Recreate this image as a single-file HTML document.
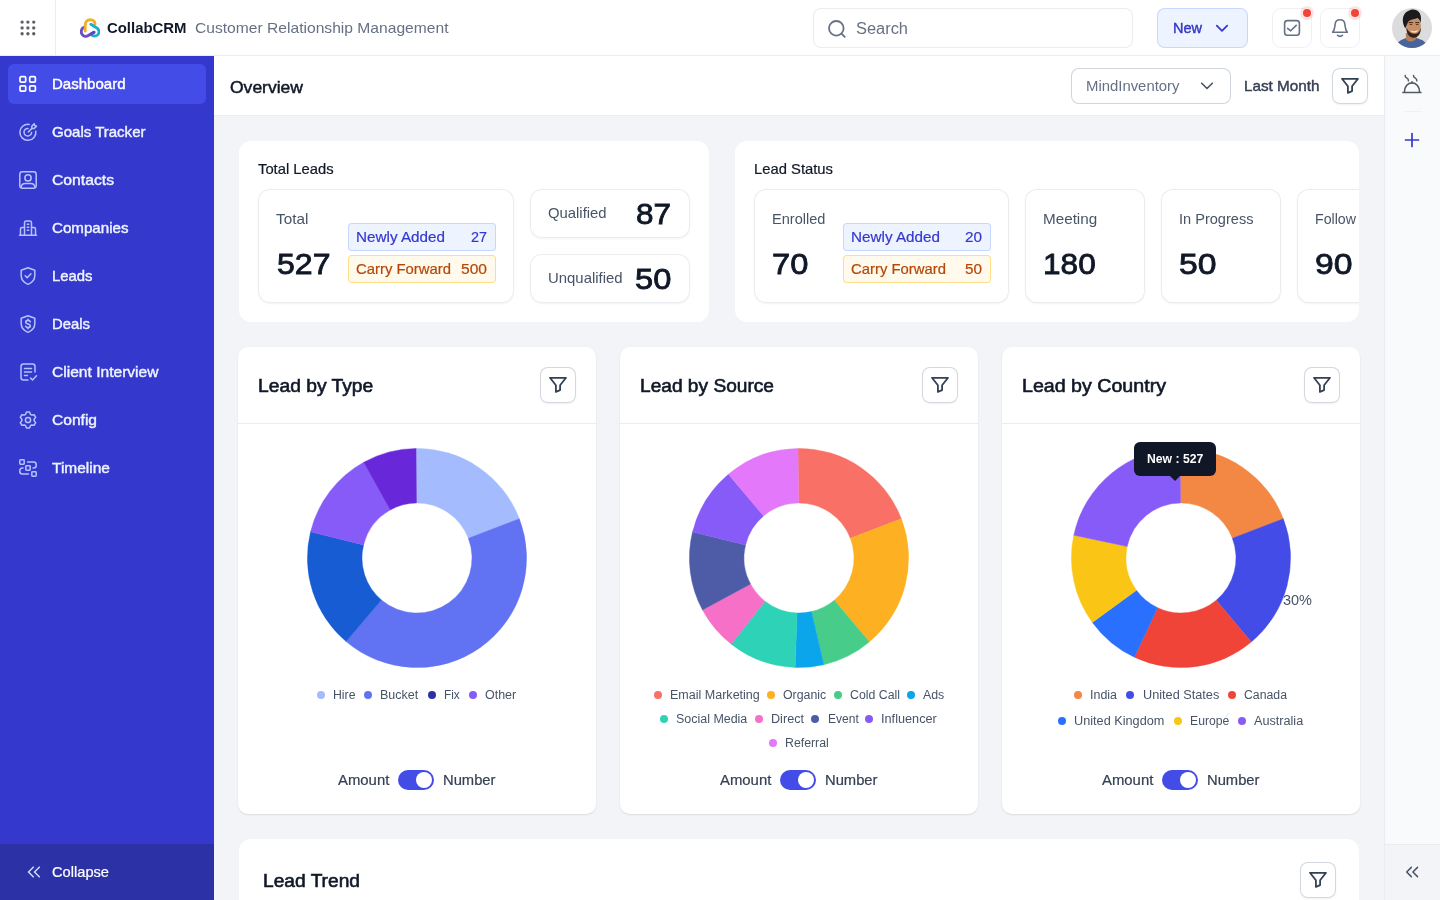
<!DOCTYPE html>
<html lang="en">
<head>
<meta charset="utf-8">
<title>CollabCRM - Dashboard Overview</title>
<style>
*{box-sizing:border-box;margin:0;padding:0}
html,body{width:1440px;height:900px;overflow:hidden}
body{position:relative;background:#f2f4f7;font-family:"Liberation Sans",sans-serif;font-size:15px;color:#101828;-webkit-font-smoothing:antialiased}
header,aside,main,section,div,button,svg.ic,.t{position:absolute}
button{font:inherit;border:0;background:none;cursor:pointer}
.t{white-space:nowrap;font-weight:400;text-decoration:none;display:block;transform-origin:0 50%}
.topbar{background:#fff;box-shadow:inset 0 -1px 0 #eaecf0;z-index:5}
.gridcell{box-shadow:inset -1px 0 0 #eaecf0}
.search{box-shadow:inset 0 0 0 1px #eaecf0;border-radius:8px;background:#fff}
.newbtn{background:#eef4ff;box-shadow:inset 0 0 0 1px #c7d7fe;border-radius:8px}
.ibtn{box-shadow:inset 0 0 0 1px #eef0f3;border-radius:9px;background:#fff}
.reddot{border-radius:50%;background:#f04438;box-shadow:0 0 0 3px rgba(240,68,56,.14)}
.sidebar{background:#3538cd}
.active{background:#444ce7;border-radius:6px}
.sfoot{background:#2d31a6}
.subheader{background:#fff;box-shadow:inset 0 -1px 0 #eaecf0}
.select{box-shadow:inset 0 0 0 1px #d0d5dd;border-radius:8px;background:#fff}
.fbtn{box-shadow:inset 0 0 0 1px #d3d7de,0 1px 2px rgba(16,24,40,.06);border-radius:8px;background:#fff}
.rail{background:#f9fafb;box-shadow:inset 1px 0 0 #eaecf0}
.raildiv{background:#eff1f4}
.railfoot{background:#f2f4f7;box-shadow:inset 0 1px 0 #eaecf0,inset 1px 0 0 #eaecf0}
.main{overflow:hidden}
.card{background:#fff;border-radius:12px}
.pcard{border-radius:10px;box-shadow:0 1px 2px rgba(16,24,40,.10)}
.stat{border-radius:12px;background:#fff;box-shadow:inset 0 0 0 1px #eaecf0,0 1px 2px rgba(16,24,40,.05)}
.bdg{border-radius:4px}
.bdg.blue{background:#eef4ff;box-shadow:inset 0 0 0 1px #c7d7fe}
.bdg.amber{background:#fffaeb;box-shadow:inset 0 0 0 1px #fedf89}
.hr{background:#eaecf0}
.dot{border-radius:50%}
.toggle{background:#444ce7;border-radius:10px}
.knob{background:#fff;border-radius:50%}
.tip{background:#101828;border-radius:6px}
</style>
</head>
<body>
<header class="topbar" style="left:0px;top:0px;width:1440px;height:56px;"><div class="gridcell" style="left:0px;top:0px;width:56px;height:55px;"></div><svg class="ic" style="left:20px;top:20px;" width="16" height="16" viewBox="0 0 16 16" fill="none"><g fill="#5b6068"><circle cx="2.1" cy="2.1" r="1.650"/><circle cx="2.1" cy="7.9" r="1.650"/><circle cx="2.1" cy="13.75" r="1.650"/><circle cx="7.9" cy="2.1" r="1.650"/><circle cx="7.9" cy="7.9" r="1.650"/><circle cx="7.9" cy="13.75" r="1.650"/><circle cx="13.75" cy="2.1" r="1.650"/><circle cx="13.75" cy="7.9" r="1.650"/><circle cx="13.75" cy="13.75" r="1.650"/></g></svg><svg class="ic" style="left:80px;top:18px;" width="20" height="20" viewBox="0 0 20 20" fill="none"><path d="M3.500 9.600C1.200 11 .6 14 2 16.200C3.400 18.400 6.200 18.900 8.300 17.600L14 14.200" stroke="#6a4fc6" stroke-width="2.900" stroke-linecap="round"/><path d="M5.200 13V7C5.200 3.500 7.500 1.700 10.300 1.700C13 1.700 15 3.400 15 5.900" stroke="#f2b01e" stroke-width="2.900" stroke-linecap="round"/><path d="M10.900 6.300L16.500 9.700C19.500 11.500 19.800 15 17.500 17C15.800 18.400 13.800 18.300 12.100 17.300" stroke="#1aaed4" stroke-width="2.900" stroke-linecap="round"/><path d="M11 16L14 14.200" stroke="#5f47b8" stroke-width="2.900" stroke-linecap="round"/></svg><strong class="t" style="transform:scaleX(0.9938);top:19.90px;font-size:15px;line-height:15px;color:#101828;left:106.5px;font-weight:700;">CollabCRM</strong><span class="t" style="transform:scaleX(1.0412);top:20.10px;font-size:15px;line-height:15px;color:#667085;left:195px;">Customer Relationship Management</span><div class="search" style="left:813px;top:8px;width:320px;height:40px;"><svg class="ic" style="left:14px;top:11px;" width="20" height="20" viewBox="0 0 20 20" fill="none"><circle cx="9.300" cy="9.300" r="7.300" stroke="#667085" stroke-width="1.800"/><path d="M14.700 14.900l3 3" stroke="#667085" stroke-width="1.800" stroke-linecap="round"/></svg><span class="t" style="transform:scaleX(1.0256);top:12.66px;font-size:16px;line-height:16px;color:#667085;left:42.5px;">Search</span></div><button class="newbtn" style="left:1157px;top:8px;width:91px;height:40px;"><span class="t" style="transform:scaleX(0.9662);top:11.90px;font-size:15px;line-height:15px;color:#3236c3;left:16.2px;-webkit-text-stroke:0.42px #3236c3;">New</span><svg class="ic" style="left:57.2px;top:12px;" width="16" height="16" viewBox="0 0 16 16" fill="none"><path d="M2.800 5.700l5.200 5.100 5.200-5.100" stroke="#3538cd" stroke-width="1.8" stroke-linecap="round" stroke-linejoin="round" /></svg></button><button class="ibtn" style="left:1272px;top:8px;width:40px;height:40px;"><svg class="ic" style="left:0px;top:0px;" width="40" height="40" viewBox="0 0 40 40" fill="none"><rect x="12.600" y="12.600" width="14.800" height="14.700" rx="2.800" stroke="#667085" stroke-width="1.600"/><path d="M15.600 20.400l3.100 2.400 5.500-5.400" stroke="#667085" stroke-width="1.6" stroke-linecap="round" stroke-linejoin="round" /></svg></button><div class="reddot" style="left:1303px;top:9px;width:8px;height:8px;"></div><button class="ibtn" style="left:1320px;top:8px;width:40px;height:40px;"><svg class="ic" style="left:0px;top:0px;" width="40" height="40" viewBox="0 0 40 40" fill="none"><path d="M12.700 24.300C14 22.500 14.700 20.500 14.900 18L15.200 16C15.500 13.200 17.400 11.800 20 11.800C22.600 11.800 24.500 13.200 24.800 16L25.100 18C25.300 20.500 26 22.500 27.300 24.300Z" stroke="#667085" stroke-width="1.6" stroke-linecap="round" stroke-linejoin="round" /><path d="M17.500 27.300C18.800 28.700 21.200 28.700 22.500 27.300" stroke="#667085" stroke-width="1.6" stroke-linecap="round" stroke-linejoin="round" /></svg></button><div class="reddot" style="left:1351px;top:9px;width:8px;height:8px;"></div><svg class="ic" style="left:1392px;top:8px;" width="40" height="40" viewBox="0 0 40 40" fill="none"><defs><clipPath id="avc"><circle cx="20" cy="20" r="20"/></clipPath></defs><g clip-path="url(#avc)"><rect width="40" height="40" fill="#dcdcdc"/><path d="M3 41c1-5 3.500-8 8.500-10l4-1.500h8l5 2c4.500 1.500 6.500 4.500 7.500 9.500z" fill="#48649b"/><path d="M13.800 25l.2 6.200c2.500 3.200 7.500 3 10.300-.5l.2-5.700z" fill="#b57e58"/><ellipse cx="21.600" cy="18.600" rx="7.300" ry="10" fill="#c88e65"/><path d="M14.300 19.500c.2 6 2.700 10.300 7.500 10.300 4.400 0 7.300-4.400 7.100-10.300-.9 4.200-3 6.300-6.200 6.300-3.600 0-6.400-2.300-8.400-6.300z" fill="#33221a"/><path d="M13.200 20.500c-4.200-7.500-3.200-16.500 5.800-18.700 6.200-1.200 10 2.700 10 8.700 0 1.600-.2 3.200-.6 4.600-.4-2.300-1.300-4-2.800-5-3 1.300-6.300 1.200-8.800 2.900-1.600 1.600-1.900 4.500-3.600 7.500z" fill="#1b1b1d"/><path d="M17.200 14.600h3.300M23.600 14.600h3.200" stroke="#2a1b14" stroke-width="0.900" stroke-linecap="round"/><path d="M18 16.500h1.800M24.300 16.500h1.800" stroke="#3a261c" stroke-width="0.800" stroke-linecap="round"/><path d="M18.300 22.300c2.200 1.300 5.600 1.200 7.800-.6-.8 3.400-6.300 3.900-7.800.6z" fill="#f5efe9"/></g></svg></header><aside class="sidebar" style="left:0px;top:56px;width:214px;height:844px;"><div class="active" style="left:8px;top:8px;width:198px;height:40px;"></div><nav><svg class="ic" style="left:18px;top:18px;" width="20" height="20" viewBox="0 0 20 20" fill="none"><rect x="2" y="2.7" width="5.700" height="5.400" rx="1.200" stroke="#fff" stroke-width="1.700"/><rect x="2" y="11.8" width="5.700" height="5.400" rx="1.200" stroke="#fff" stroke-width="1.700"/><rect x="11.7" y="2.7" width="5.700" height="5.400" rx="1.200" stroke="#fff" stroke-width="1.700"/><rect x="11.7" y="11.8" width="5.700" height="5.400" rx="1.200" stroke="#fff" stroke-width="1.700"/></svg><a class="t" style="transform:scaleX(1.0015);top:19.70px;font-size:15px;line-height:15px;color:#ffffff;left:51.8px;-webkit-text-stroke:0.42px #ffffff;">Dashboard</a><svg class="ic" style="left:18px;top:66px;" width="20" height="20" viewBox="0 0 20 20" fill="none"><path d="M17.800 9.200a8 8 0 1 1-6.600-6.800" stroke="#b4c3fd" stroke-width="1.5" stroke-linecap="round" stroke-linejoin="round" /><path d="M13.600 10.400a3.800 3.800 0 1 1-3.600-4" stroke="#b4c3fd" stroke-width="1.5" stroke-linecap="round" stroke-linejoin="round" /><path d="M10.300 10l3.600-3.600" stroke="#b4c3fd" stroke-width="1.5" stroke-linecap="round" stroke-linejoin="round" /><path d="M13.700 6.500l.2-2.400 2.300-2.300.6 1.700 1.700.6-2.300 2.300z" stroke="#b4c3fd" stroke-width="1.5" stroke-linecap="round" stroke-linejoin="round" /></svg><a class="t" style="transform:scaleX(1.0013);top:67.70px;font-size:15px;line-height:15px;color:#eef4ff;left:51.8px;-webkit-text-stroke:0.42px #eef4ff;">Goals Tracker</a><svg class="ic" style="left:18px;top:114px;" width="20" height="20" viewBox="0 0 20 20" fill="none"><rect x="1.800" y="1.800" width="16.400" height="16.400" rx="2.600" stroke="#b4c3fd" stroke-width="1.500"/><circle cx="10" cy="7.900" r="3.100" stroke="#b4c3fd" stroke-width="1.500"/><path d="M3 17.300c.5-2.500 2.200-3.700 4.300-3.700h5.400c2.100 0 3.800 1.200 4.300 3.700" stroke="#b4c3fd" stroke-width="1.5" stroke-linecap="round" stroke-linejoin="round" /></svg><a class="t" style="transform:scaleX(1.0472);top:115.70px;font-size:15px;line-height:15px;color:#eef4ff;left:51.8px;-webkit-text-stroke:0.42px #eef4ff;">Contacts</a><svg class="ic" style="left:18px;top:162px;" width="20" height="20" viewBox="0 0 20 20" fill="none"><path d="M1.500 17.300h17" stroke="#b4c3fd" stroke-width="1.5" stroke-linecap="round" stroke-linejoin="round" /><path d="M6.500 17v-12.300c0-1 .6-1.700 1.700-1.700h3.600c1.100 0 1.700.7 1.700 1.700v12.300" stroke="#b4c3fd" stroke-width="1.5" stroke-linecap="round" stroke-linejoin="round" /><path d="M6.500 9.500h-2.500c-1 0-1.500.6-1.500 1.500v6" stroke="#b4c3fd" stroke-width="1.5" stroke-linecap="round" stroke-linejoin="round" /><path d="M13.500 9.500h2.500c1 0 1.500.6 1.500 1.500v6" stroke="#b4c3fd" stroke-width="1.5" stroke-linecap="round" stroke-linejoin="round" /><path d="M9.300 6.300h1.400M9.300 9.300h1.400M9.300 12.300h1.400" stroke="#b4c3fd" stroke-width="1.5" stroke-linecap="round" stroke-linejoin="round" /></svg><a class="t" style="transform:scaleX(1.0082);top:163.70px;font-size:15px;line-height:15px;color:#eef4ff;left:51.8px;-webkit-text-stroke:0.42px #eef4ff;">Companies</a><svg class="ic" style="left:18px;top:210px;" width="20" height="20" viewBox="0 0 20 20" fill="none"><path d="M10 1.800l6.800 2.500v5.200c0 4.300-2.800 7.300-6.800 8.900-4-1.600-6.800-4.600-6.800-8.900v-5.200z" stroke="#b4c3fd" stroke-width="1.5" stroke-linecap="round" stroke-linejoin="round" /><path d="M7.200 9.800l2 2 3.800-4" stroke="#b4c3fd" stroke-width="1.5" stroke-linecap="round" stroke-linejoin="round" /></svg><a class="t" style="transform:scaleX(0.9908);top:211.70px;font-size:15px;line-height:15px;color:#eef4ff;left:51.8px;-webkit-text-stroke:0.42px #eef4ff;">Leads</a><svg class="ic" style="left:18px;top:258px;" width="20" height="20" viewBox="0 0 20 20" fill="none"><path d="M10 1.800l6.800 2.500v5.200c0 4.300-2.800 7.300-6.800 8.900-4-1.600-6.800-4.600-6.800-8.900v-5.200z" stroke="#b4c3fd" stroke-width="1.5" stroke-linecap="round" stroke-linejoin="round" /><path d="M12.300 7.700c-.3-.8-1.200-1.300-2.300-1.300-1.300 0-2.300.7-2.300 1.800 0 2.500 4.600 1.100 4.600 3.600 0 1.100-1 1.800-2.300 1.800-1.100 0-2-.5-2.300-1.300M10 5.200v1.200M10 13.600v1.200" stroke="#b4c3fd" stroke-width="1.6" stroke-linecap="round" stroke-linejoin="round" /></svg><a class="t" style="transform:scaleX(0.9906);top:259.70px;font-size:15px;line-height:15px;color:#eef4ff;left:51.8px;-webkit-text-stroke:0.42px #eef4ff;">Deals</a><svg class="ic" style="left:18px;top:306px;" width="20" height="20" viewBox="0 0 20 20" fill="none"><path d="M17 10v-5.500c0-1.500-.8-2.500-2.500-2.500h-9c-1.700 0-2.500 1-2.500 2.500v11c0 1.500.8 2.500 2.500 2.500h4.500" stroke="#b4c3fd" stroke-width="1.5" stroke-linecap="round" stroke-linejoin="round" /><path d="M6.500 6.500h7M6.500 10h7M6.500 13.500h3" stroke="#b4c3fd" stroke-width="1.5" stroke-linecap="round" stroke-linejoin="round" /><path d="M12.500 16l2 2 4-4.200" stroke="#b4c3fd" stroke-width="1.5" stroke-linecap="round" stroke-linejoin="round" /></svg><a class="t" style="transform:scaleX(1.0385);top:307.70px;font-size:15px;line-height:15px;color:#eef4ff;left:51.8px;-webkit-text-stroke:0.42px #eef4ff;">Client Interview</a><svg class="ic" style="left:18px;top:354px;" width="20" height="20" viewBox="0 0 20 20" fill="none"><path d="M8.45 2.05L11.55 2.05L12.42 4.29L13.73 5.05L16.11 4.69L17.66 7.36L16.15 9.24L16.15 10.76L17.66 12.64L16.11 15.31L13.73 14.95L12.42 15.71L11.55 17.95L8.45 17.95L7.58 15.71L6.27 14.95L3.89 15.31L2.34 12.64L3.85 10.76L3.85 9.24L2.34 7.36L3.89 4.69L6.27 5.05L7.58 4.29Z" stroke="#b4c3fd" stroke-width="1.5" stroke-linecap="round" stroke-linejoin="round" /><circle cx="10" cy="10" r="2.600" stroke="#b4c3fd" stroke-width="1.500"/></svg><a class="t" style="transform:scaleX(1.0378);top:355.70px;font-size:15px;line-height:15px;color:#eef4ff;left:51.8px;-webkit-text-stroke:0.42px #eef4ff;">Config</a><svg class="ic" style="left:18px;top:402px;" width="20" height="20" viewBox="0 0 20 20" fill="none"><rect x="1.800" y="1.800" width="4.400" height="4.400" rx="0.700" stroke="#b4c3fd" stroke-width="1.500"/><rect x="7.800" y="7.800" width="4.400" height="4.400" rx="0.700" stroke="#b4c3fd" stroke-width="1.500"/><rect x="13.800" y="13.800" width="4.400" height="4.400" rx="0.700" stroke="#b4c3fd" stroke-width="1.500"/><path d="M9.500 4h6c1.700 0 2.700 1 2.700 2.700v.8c0 1.500-1 2.500-2.700 2.500h-.5" stroke="#b4c3fd" stroke-width="1.5" stroke-linecap="round" stroke-linejoin="round" /><path d="M5 10h-.5c-1.700 0-2.700 1-2.700 2.700v.8c0 1.500 1 2.500 2.700 2.500h6" stroke="#b4c3fd" stroke-width="1.5" stroke-linecap="round" stroke-linejoin="round" /></svg><a class="t" style="transform:scaleX(1.0331);top:403.70px;font-size:15px;line-height:15px;color:#eef4ff;left:51.8px;-webkit-text-stroke:0.42px #eef4ff;">Timeline</a></nav><div class="sfoot" style="left:0px;top:788px;width:214px;height:56px;"><svg class="ic" style="left:26px;top:20px;" width="16" height="16" viewBox="0 0 16 16" fill="none"><path d="M7.300 3.200l-4.800 4.800 4.800 4.800M13.300 3.200l-4.800 4.800 4.800 4.800" stroke="#c7d7fe" stroke-width="1.6" stroke-linecap="round" stroke-linejoin="round" /></svg><span class="t" style="transform:scaleX(0.9764);top:20.30px;font-size:15px;line-height:15px;color:#ffffff;left:51.8px;-webkit-text-stroke:0.21px #ffffff;">Collapse</span></div></aside><div class="subheader" style="left:214px;top:56px;width:1170px;height:60px;"><h1 class="t" style="transform:scaleX(1.1231);top:23.59px;font-size:15.6px;line-height:15.6px;color:#101828;left:16px;-webkit-text-stroke:0.44px #101828;">Overview</h1><div class="select" style="left:857px;top:12px;width:160px;height:36px;"><span class="t" style="transform:scaleX(0.9924);top:9.90px;font-size:15px;line-height:15px;color:#667085;left:14.5px;">MindInventory</span><svg class="ic" style="left:128.3px;top:10px;" width="16" height="16" viewBox="0 0 16 16" fill="none"><path d="M2.700 5.200l5.300 5.300 5.300-5.300" stroke="#475467" stroke-width="1.6" stroke-linecap="round" stroke-linejoin="round" /></svg></div><span class="t" style="transform:scaleX(1.0173);top:21.90px;font-size:15px;line-height:15px;color:#344054;left:1029.5px;-webkit-text-stroke:0.42px #344054;">Last Month</span><button class="fbtn" style="left:1118px;top:12px;width:36px;height:36px;"><svg class="ic" style="left:0px;top:0px;" width="36" height="36" viewBox="0 0 36 36" fill="none"><path d="M10 10.800H26L20.100 18.300V23.100L15.900 24.900V18.300Z" stroke="#344054" stroke-width="1.8" stroke-linecap="round" stroke-linejoin="round" /></svg></button></div><aside class="rail" style="left:1384px;top:56px;width:56px;height:844px;"><svg class="ic" style="left:18px;top:18px;" width="20" height="20" viewBox="0 0 20 20" fill="none"><path d="M0.900 18.500H18.900" stroke="#535862" stroke-width="1.6" stroke-linecap="round" stroke-linejoin="round" /><path d="M2.400 18.200C2.400 12.500 5.600 8.900 10 8.900C14.400 8.900 17.600 12.500 17.600 18.200" stroke="#535862" stroke-width="1.6" stroke-linecap="round" stroke-linejoin="round" /><path d="M10 8.600V7.700" stroke="#535862" stroke-width="1.6" stroke-linecap="round" stroke-linejoin="round" /><path d="M3.200 1.500C2.900 3 3.900 3.600 4.900 4.100C6 4.700 6.600 5.400 6.400 6.800" stroke="#535862" stroke-width="1.5" stroke-linecap="round" stroke-linejoin="round" /><path d="M11.500 1.500C11.200 3 12.200 3.600 13.300 4.100C14.400 4.700 15 5.400 14.800 6.800" stroke="#535862" stroke-width="1.5" stroke-linecap="round" stroke-linejoin="round" /></svg><div class="raildiv" style="left:19.5px;top:55px;width:18px;height:1px;"></div><svg class="ic" style="left:20px;top:76px;" width="16" height="16" viewBox="0 0 16 16" fill="none"><path d="M8 1.500v13M1.500 8h13" stroke="#3538cd" stroke-width="1.7" stroke-linecap="round" stroke-linejoin="round" /></svg><div class="railfoot" style="left:0px;top:788px;width:56px;height:56px;"><svg class="ic" style="left:20px;top:20px;" width="16" height="16" viewBox="0 0 16 16" fill="none"><path d="M7.300 3.400l-4.600 4.600 4.600 4.600M13.500 3.400l-4.600 4.600 4.600 4.600" stroke="#475467" stroke-width="1.5" stroke-linecap="round" stroke-linejoin="round" /></svg></div></aside><main class="main" style="left:214px;top:115px;width:1170px;height:785px;"><section class="card" style="left:25px;top:26px;width:470px;height:181px;"><h2 class="t" style="transform:scaleX(0.9852);top:20.40px;font-size:15px;line-height:15px;color:#101828;left:19.2px;-webkit-text-stroke:0.21px #101828;">Total Leads</h2><div class="stat" style="left:19px;top:48px;width:256px;height:114px;"><span class="t" style="transform:scaleX(1.0193);top:22.20px;font-size:15px;line-height:15px;color:#475467;left:18.1px;">Total</span><strong class="t" style="transform:scaleX(1.0687);top:60.30px;font-size:30px;line-height:30px;color:#101828;left:18.9px;-webkit-text-stroke:0.84px #101828;">527</strong><div class="bdg blue" style="left:90px;top:34px;width:148px;height:28px;"><span class="t" style="transform:scaleX(1.0164);top:6.30px;font-size:15px;line-height:15px;color:#3538cd;left:8.2px;-webkit-text-stroke:0.21px #3538cd;">Newly Added</span><span class="t" style="transform:scaleX(0.9588);top:6.30px;font-size:15px;line-height:15px;color:#3538cd;left:123.3px;-webkit-text-stroke:0.21px #3538cd;">27</span></div><div class="bdg amber" style="left:90px;top:66px;width:148px;height:28px;"><span class="t" style="transform:scaleX(0.9910);top:6.30px;font-size:15px;line-height:15px;color:#b54708;left:8.2px;-webkit-text-stroke:0.21px #b54708;">Carry Forward</span><span class="t" style="transform:scaleX(1.0387);top:6.30px;font-size:15px;line-height:15px;color:#b54708;left:113.3px;-webkit-text-stroke:0.21px #b54708;">500</span></div></div><div class="stat" style="left:291px;top:48px;width:160px;height:49px;"><span class="t" style="transform:scaleX(0.9898);top:16.40px;font-size:15px;line-height:15px;color:#475467;left:17.9px;">Qualified</span><strong class="t" style="transform:scaleX(1.0487);top:9.50px;font-size:30px;line-height:30px;color:#101828;left:106px;-webkit-text-stroke:0.84px #101828;">87</strong></div><div class="stat" style="left:291px;top:113px;width:160px;height:49px;"><span class="t" style="transform:scaleX(0.9938);top:16.40px;font-size:15px;line-height:15px;color:#475467;left:17.9px;">Unqualified</span><strong class="t" style="transform:scaleX(1.0876);top:9.50px;font-size:30px;line-height:30px;color:#101828;left:104.7px;-webkit-text-stroke:0.84px #101828;">50</strong></div></section><section class="card" style="left:521px;top:26px;width:624px;height:181px;overflow:hidden;"><h2 class="t" style="transform:scaleX(0.9867);top:20.40px;font-size:15px;line-height:15px;color:#101828;left:19.4px;-webkit-text-stroke:0.21px #101828;">Lead Status</h2><div class="stat" style="left:19px;top:48px;width:255px;height:114px;"><span class="t" style="transform:scaleX(0.9701);top:22.20px;font-size:15px;line-height:15px;color:#475467;left:18.2px;">Enrolled</span><strong class="t" style="transform:scaleX(1.0876);top:60.30px;font-size:30px;line-height:30px;color:#101828;left:18px;-webkit-text-stroke:0.84px #101828;">70</strong><div class="bdg blue" style="left:89px;top:34px;width:148px;height:28px;"><span class="t" style="transform:scaleX(1.0164);top:6.30px;font-size:15px;line-height:15px;color:#3538cd;left:8.2px;-webkit-text-stroke:0.21px #3538cd;">Newly Added</span><span class="t" style="transform:scaleX(1.0187);top:6.30px;font-size:15px;line-height:15px;color:#3538cd;left:122.3px;-webkit-text-stroke:0.21px #3538cd;">20</span></div><div class="bdg amber" style="left:89px;top:66px;width:148px;height:28px;"><span class="t" style="transform:scaleX(0.9910);top:6.30px;font-size:15px;line-height:15px;color:#b54708;left:8.2px;-webkit-text-stroke:0.21px #b54708;">Carry Forward</span><span class="t" style="transform:scaleX(1.0187);top:6.30px;font-size:15px;line-height:15px;color:#b54708;left:122.3px;-webkit-text-stroke:0.21px #b54708;">50</span></div></div><div class="stat" style="left:290px;top:48px;width:120px;height:114px;"><span class="t" style="transform:scaleX(1.0155);top:22.20px;font-size:15px;line-height:15px;color:#475467;left:18.3px;">Meeting</span><strong class="t" style="transform:scaleX(1.0527);top:60.30px;font-size:30px;line-height:30px;color:#101828;left:18.3px;-webkit-text-stroke:0.84px #101828;">180</strong></div><div class="stat" style="left:426px;top:48px;width:120px;height:114px;"><span class="t" style="transform:scaleX(0.9713);top:22.20px;font-size:15px;line-height:15px;color:#475467;left:18.3px;">In Progress</span><strong class="t" style="transform:scaleX(1.1236);top:60.30px;font-size:30px;line-height:30px;color:#101828;left:18.3px;-webkit-text-stroke:0.84px #101828;">50</strong></div><div class="stat" style="left:562px;top:48px;width:120px;height:114px;"><span class="t" style="transform:scaleX(0.9447);top:22.20px;font-size:15px;line-height:15px;color:#475467;left:18.3px;">Follow Up</span><strong class="t" style="transform:scaleX(1.1236);top:60.30px;font-size:30px;line-height:30px;color:#101828;left:18.3px;-webkit-text-stroke:0.84px #101828;">90</strong></div></section><section class="card pcard" style="left:24px;top:232px;width:358px;height:467px;"><h2 class="t" style="transform:scaleX(1.0699);top:29.96px;font-size:18px;line-height:18px;color:#101828;left:20.3px;-webkit-text-stroke:0.58px #101828;">Lead by Type</h2><button class="fbtn" style="left:302px;top:20px;width:36px;height:36px;"><svg class="ic" style="left:0px;top:0px;" width="36" height="36" viewBox="0 0 36 36" fill="none"><path d="M10 10.800H26L20.100 18.300V23.100L15.900 24.900V18.300Z" stroke="#344054" stroke-width="1.8" stroke-linecap="round" stroke-linejoin="round" /></svg></button><div class="hr" style="left:0px;top:76px;width:358px;height:1px;"></div><svg class="ic" style="left:58.9px;top:90.85px" width="240" height="240" viewBox="296.9 437.85 240 240"><path d="M415.94 448.25A109.6 109.6 0 0 1 519.22 518.57L468.25 538.14A55 55 0 0 0 416.42 502.85Z" fill="#a4bcfd" stroke="#a4bcfd" stroke-width="0.4"/><path d="M519.22 518.57A109.6 109.6 0 0 1 346.01 641.44L381.33 599.80A55 55 0 0 0 468.25 538.14Z" fill="#6172f3" stroke="#6172f3" stroke-width="0.4"/><path d="M346.01 641.44A109.6 109.6 0 0 1 310.46 531.71L363.49 544.73A55 55 0 0 0 381.33 599.80Z" fill="#175cd3" stroke="#175cd3" stroke-width="0.4"/><path d="M310.46 531.71A109.6 109.6 0 0 1 363.60 462.08L390.15 509.79A55 55 0 0 0 363.49 544.73Z" fill="#875bf7" stroke="#875bf7" stroke-width="0.4"/><path d="M363.60 462.08A109.6 109.6 0 0 1 415.94 448.25L416.42 502.85A55 55 0 0 0 390.15 509.79Z" fill="#6927da" stroke="#6927da" stroke-width="0.4"/></svg><div class="dot" style="left:78.5px;top:344px;width:8px;height:8px;background:#a4bcfd;"></div><span class="t" style="transform:scaleX(1.0220);top:341.94px;font-size:12px;line-height:12px;color:#475467;left:94.5px;">Hire</span><div class="dot" style="left:125.5px;top:344px;width:8px;height:8px;background:#6172f3;"></div><span class="t" style="transform:scaleX(1.0412);top:341.94px;font-size:12px;line-height:12px;color:#475467;left:141.8px;">Bucket</span><div class="dot" style="left:189.8px;top:344px;width:8px;height:8px;background:#2d31a6;"></div><span class="t" style="transform:scaleX(0.9875);top:341.94px;font-size:12px;line-height:12px;color:#475467;left:205.5px;">Fix</span><div class="dot" style="left:230.5px;top:344px;width:8px;height:8px;background:#875bf7;"></div><span class="t" style="transform:scaleX(1.0395);top:341.94px;font-size:12px;line-height:12px;color:#475467;left:246.8px;">Other</span><span class="t" style="transform:scaleX(0.9922);top:425.30px;font-size:15px;line-height:15px;color:#344054;left:100px;-webkit-text-stroke:0.21px #344054;">Amount</span><div class="toggle" style="left:160.3px;top:423px;width:36px;height:20px;"><div class="knob" style="left:18px;top:2px;width:16px;height:16px;"></div></div><span class="t" style="transform:scaleX(0.9839);top:425.30px;font-size:15px;line-height:15px;color:#344054;left:205px;-webkit-text-stroke:0.21px #344054;">Number</span></section><section class="card pcard" style="left:406px;top:232px;width:358px;height:467px;"><h2 class="t" style="transform:scaleX(1.0627);top:29.96px;font-size:18px;line-height:18px;color:#101828;left:20.3px;-webkit-text-stroke:0.58px #101828;">Lead by Source</h2><button class="fbtn" style="left:302px;top:20px;width:36px;height:36px;"><svg class="ic" style="left:0px;top:0px;" width="36" height="36" viewBox="0 0 36 36" fill="none"><path d="M10 10.800H26L20.100 18.300V23.100L15.900 24.900V18.300Z" stroke="#344054" stroke-width="1.8" stroke-linecap="round" stroke-linejoin="round" /></svg></button><div class="hr" style="left:0px;top:76px;width:358px;height:1px;"></div><svg class="ic" style="left:58.9px;top:90.85px" width="240" height="240" viewBox="678.9 437.85 240 240"><path d="M797.94 448.25A109.6 109.6 0 0 1 901.22 518.57L850.25 538.14A55 55 0 0 0 798.42 502.85Z" fill="#f97066" stroke="#f97066" stroke-width="0.4"/><path d="M901.22 518.57A109.6 109.6 0 0 1 869.20 641.93L834.18 600.04A55 55 0 0 0 850.25 538.14Z" fill="#fdb022" stroke="#fdb022" stroke-width="0.4"/><path d="M869.20 641.93A109.6 109.6 0 0 1 823.74 664.60L811.37 611.42A55 55 0 0 0 834.18 600.04Z" fill="#47cd89" stroke="#47cd89" stroke-width="0.4"/><path d="M823.74 664.60A109.6 109.6 0 0 1 795.08 667.38L796.98 612.82A55 55 0 0 0 811.37 611.42Z" fill="#0ba5ec" stroke="#0ba5ec" stroke-width="0.4"/><path d="M795.08 667.38A109.6 109.6 0 0 1 731.12 643.98L764.89 601.07A55 55 0 0 0 796.98 612.82Z" fill="#2ed3b7" stroke="#2ed3b7" stroke-width="0.4"/><path d="M731.12 643.98A109.6 109.6 0 0 1 702.40 609.81L750.47 583.92A55 55 0 0 0 764.89 601.07Z" fill="#f670c7" stroke="#f670c7" stroke-width="0.4"/><path d="M702.40 609.81A109.6 109.6 0 0 1 692.42 531.89L745.46 544.82A55 55 0 0 0 750.47 583.92Z" fill="#4e5ba6" stroke="#4e5ba6" stroke-width="0.4"/><path d="M692.42 531.89A109.6 109.6 0 0 1 728.30 474.01L763.47 515.78A55 55 0 0 0 745.46 544.82Z" fill="#875bf7" stroke="#875bf7" stroke-width="0.4"/><path d="M728.30 474.01A109.6 109.6 0 0 1 797.94 448.25L798.42 502.85A55 55 0 0 0 763.47 515.78Z" fill="#e478fa" stroke="#e478fa" stroke-width="0.4"/></svg><div class="dot" style="left:33.5px;top:344px;width:8px;height:8px;background:#f97066;"></div><span class="t" style="transform:scaleX(1.0438);top:341.94px;font-size:12px;line-height:12px;color:#475467;left:49.5px;">Email Marketing</span><div class="dot" style="left:146.5px;top:344px;width:8px;height:8px;background:#fdb022;"></div><span class="t" style="transform:scaleX(1.0302);top:341.94px;font-size:12px;line-height:12px;color:#475467;left:163px;">Organic</span><div class="dot" style="left:213.5px;top:344px;width:8px;height:8px;background:#47cd89;"></div><span class="t" style="transform:scaleX(1.0270);top:341.94px;font-size:12px;line-height:12px;color:#475467;left:230px;">Cold Call</span><div class="dot" style="left:286.5px;top:344px;width:8px;height:8px;background:#0ba5ec;"></div><span class="t" style="transform:scaleX(1.0296);top:341.94px;font-size:12px;line-height:12px;color:#475467;left:303px;">Ads</span><div class="dot" style="left:40px;top:368px;width:8px;height:8px;background:#2ed3b7;"></div><span class="t" style="transform:scaleX(1.0378);top:365.94px;font-size:12px;line-height:12px;color:#475467;left:56.3px;">Social Media</span><div class="dot" style="left:135px;top:368px;width:8px;height:8px;background:#f670c7;"></div><span class="t" style="transform:scaleX(1.0528);top:365.94px;font-size:12px;line-height:12px;color:#475467;left:151.3px;">Direct</span><div class="dot" style="left:191px;top:368px;width:8px;height:8px;background:#4e5ba6;"></div><span class="t" style="transform:scaleX(1.0037);top:365.94px;font-size:12px;line-height:12px;color:#475467;left:207.5px;">Event</span><div class="dot" style="left:245.3px;top:368px;width:8px;height:8px;background:#875bf7;"></div><span class="t" style="transform:scaleX(1.0588);top:365.94px;font-size:12px;line-height:12px;color:#475467;left:261.3px;">Influencer</span><div class="dot" style="left:148.5px;top:392px;width:8px;height:8px;background:#e478fa;"></div><span class="t" style="transform:scaleX(1.0261);top:389.94px;font-size:12px;line-height:12px;color:#475467;left:164.5px;">Referral</span><span class="t" style="transform:scaleX(0.9922);top:425.30px;font-size:15px;line-height:15px;color:#344054;left:100px;-webkit-text-stroke:0.21px #344054;">Amount</span><div class="toggle" style="left:160.3px;top:423px;width:36px;height:20px;"><div class="knob" style="left:18px;top:2px;width:16px;height:16px;"></div></div><span class="t" style="transform:scaleX(0.9839);top:425.30px;font-size:15px;line-height:15px;color:#344054;left:205px;-webkit-text-stroke:0.21px #344054;">Number</span></section><section class="card pcard" style="left:788px;top:232px;width:358px;height:467px;"><h2 class="t" style="transform:scaleX(1.0901);top:29.96px;font-size:18px;line-height:18px;color:#101828;left:20.3px;-webkit-text-stroke:0.58px #101828;">Lead by Country</h2><button class="fbtn" style="left:302px;top:20px;width:36px;height:36px;"><svg class="ic" style="left:0px;top:0px;" width="36" height="36" viewBox="0 0 36 36" fill="none"><path d="M10 10.800H26L20.100 18.300V23.100L15.900 24.900V18.300Z" stroke="#344054" stroke-width="1.8" stroke-linecap="round" stroke-linejoin="round" /></svg></button><div class="hr" style="left:0px;top:76px;width:358px;height:1px;"></div><svg class="ic" style="left:58.9px;top:90.85px" width="240" height="240" viewBox="1060.9 437.85 240 240"><path d="M1179.94 448.25A109.6 109.6 0 0 1 1283.22 518.57L1232.25 538.14A55 55 0 0 0 1180.42 502.85Z" fill="#f38744" stroke="#f38744" stroke-width="0.4"/><path d="M1283.22 518.57A109.6 109.6 0 0 1 1251.20 641.93L1216.18 600.04A55 55 0 0 0 1232.25 538.14Z" fill="#444ce7" stroke="#444ce7" stroke-width="0.4"/><path d="M1251.20 641.93A109.6 109.6 0 0 1 1134.23 657.02L1157.48 607.62A55 55 0 0 0 1216.18 600.04Z" fill="#f04438" stroke="#f04438" stroke-width="0.4"/><path d="M1134.23 657.02A109.6 109.6 0 0 1 1092.23 622.27L1136.40 590.18A55 55 0 0 0 1157.48 607.62Z" fill="#2970ff" stroke="#2970ff" stroke-width="0.4"/><path d="M1092.23 622.27A109.6 109.6 0 0 1 1073.70 535.06L1127.10 546.41A55 55 0 0 0 1136.40 590.18Z" fill="#fac515" stroke="#fac515" stroke-width="0.4"/><path d="M1073.70 535.06A109.6 109.6 0 0 1 1179.94 448.25L1180.42 502.85A55 55 0 0 0 1127.10 546.41Z" fill="#875bf7" stroke="#875bf7" stroke-width="0.4"/></svg><div class="dot" style="left:71.8px;top:344px;width:8px;height:8px;background:#f38744;"></div><span class="t" style="transform:scaleX(1.0372);top:341.94px;font-size:12px;line-height:12px;color:#475467;left:88px;">India</span><div class="dot" style="left:124px;top:344px;width:8px;height:8px;background:#444ce7;"></div><span class="t" style="transform:scaleX(1.0590);top:341.94px;font-size:12px;line-height:12px;color:#475467;left:140.5px;">United States</span><div class="dot" style="left:226px;top:344px;width:8px;height:8px;background:#f04438;"></div><span class="t" style="transform:scaleX(1.0227);top:341.94px;font-size:12px;line-height:12px;color:#475467;left:242px;">Canada</span><div class="dot" style="left:56px;top:370px;width:8px;height:8px;background:#2970ff;"></div><span class="t" style="transform:scaleX(1.0587);top:367.94px;font-size:12px;line-height:12px;color:#475467;left:72.1px;">United Kingdom</span><div class="dot" style="left:171.8px;top:370px;width:8px;height:8px;background:#fac515;"></div><span class="t" style="transform:scaleX(1.0154);top:367.94px;font-size:12px;line-height:12px;color:#475467;left:188.3px;">Europe</span><div class="dot" style="left:236px;top:370px;width:8px;height:8px;background:#875bf7;"></div><span class="t" style="transform:scaleX(1.0538);top:367.94px;font-size:12px;line-height:12px;color:#475467;left:252.1px;">Australia</span><span class="t" style="transform:scaleX(0.9922);top:425.30px;font-size:15px;line-height:15px;color:#344054;left:100px;-webkit-text-stroke:0.21px #344054;">Amount</span><div class="toggle" style="left:160.3px;top:423px;width:36px;height:20px;"><div class="knob" style="left:18px;top:2px;width:16px;height:16px;"></div></div><span class="t" style="transform:scaleX(0.9839);top:425.30px;font-size:15px;line-height:15px;color:#344054;left:205px;-webkit-text-stroke:0.21px #344054;">Number</span><span class="t" style="transform:scaleX(1.0346);top:245.95px;font-size:14px;line-height:14px;color:#475467;left:280.8px;">30%</span><svg class="ic" style="left:220px;top:363px;" width="10" height="10" viewBox="0 0 10 10" fill="none"><path d="M3 7.300L6.700 3.200" stroke="#c9cdd3" stroke-width="0.600"/></svg><div class="tip" style="left:132px;top:95px;width:82px;height:33.5px;"><span class="t" style="transform:scaleX(1.0152);top:11.14px;font-size:12px;line-height:12px;color:#ffffff;left:13px;font-weight:700;">New : 527</span></div><svg class="ic" style="left:167px;top:128px;" width="12" height="6" viewBox="0 0 12 6" fill="none"><path d="M0 0h12l-6 6z" fill="#101828"/></svg></section><section class="card" style="left:25px;top:724px;width:1120px;height:80px;"><h2 class="t" style="transform:scaleX(1.0650);top:32.76px;font-size:18px;line-height:18px;color:#101828;left:23.5px;-webkit-text-stroke:0.58px #101828;">Lead Trend</h2><button class="fbtn" style="left:1061px;top:23px;width:36px;height:36px;"><svg class="ic" style="left:0px;top:0px;" width="36" height="36" viewBox="0 0 36 36" fill="none"><path d="M10 10.800H26L20.100 18.300V23.100L15.900 24.900V18.300Z" stroke="#344054" stroke-width="1.8" stroke-linecap="round" stroke-linejoin="round" /></svg></button></section></main>
</body>
</html>
